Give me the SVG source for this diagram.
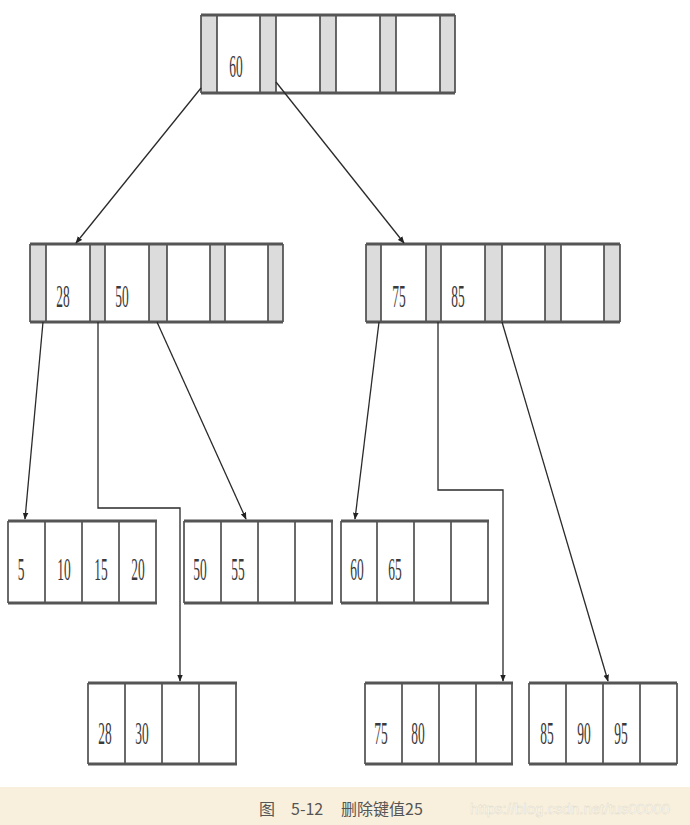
<svg xmlns="http://www.w3.org/2000/svg" width="690" height="825" viewBox="0 0 690 825">
<defs>
<marker id="ah" viewBox="0 0 10 10" refX="9" refY="5" markerWidth="7" markerHeight="7" orient="auto-start-reverse" markerUnits="userSpaceOnUse">
<path d="M0,1 L10,5 L0,9 z" fill="#222"/>
</marker>
</defs>
<style>
.g{fill:#dcdcdc;stroke:none}
.box{fill:#fff;stroke:none}
.v{stroke:#3a3a3a;stroke-width:1.5;fill:none}
.hb{stroke:#555;stroke-width:3;fill:none}
.n{font-family:"Liberation Serif","Times New Roman",serif;font-size:32px;fill:#3a3a3a;text-anchor:middle}
.c{stroke:#2a2a2a;stroke-width:1.3;fill:none}
.cap{font-family:"Noto Sans CJK SC","Noto Sans",sans-serif;font-size:16px;fill:#555}
.wm{font-family:"Liberation Sans","Noto Sans",sans-serif;font-size:15px;fill:#ffffff;stroke:#e2d9c6;stroke-width:0.5}
</style>
<rect width="690" height="825" fill="#fff"/>
<rect x="0" y="787" width="690" height="38" fill="#f8f0dc"/>

<g id="root">
<rect class="box" x="201" y="15" width="254" height="78"/>
<rect class="g" x="201" y="15" width="16" height="78"/>
<rect class="g" x="260" y="15" width="16" height="78"/>
<rect class="g" x="320" y="15" width="16" height="78"/>
<rect class="g" x="380" y="15" width="16" height="78"/>
<rect class="g" x="440" y="15" width="15" height="78"/>
<path class="v" d="M201,15V93M217,15V93M260,15V93M276,15V93M320,15V93M336,15V93M380,15V93M396,15V93M440,15V93M455,15V93"/>
<path class="hb" d="M201,15H455M201,93H455"/>
<text class="n" transform="translate(236,77) scale(0.42,1)">60</text>
</g>

<g id="mid-left">
<rect class="box" x="30" y="244" width="253" height="78"/>
<rect class="g" x="30" y="244" width="16" height="78"/>
<rect class="g" x="90" y="244" width="15" height="78"/>
<rect class="g" x="149" y="244" width="18" height="78"/>
<rect class="g" x="210" y="244" width="15" height="78"/>
<rect class="g" x="268" y="244" width="15" height="78"/>
<path class="v" d="M30,244V322M46,244V322M90,244V322M105,244V322M149,244V322M167,244V322M210,244V322M225,244V322M268,244V322M283,244V322"/>
<path class="hb" d="M30,244H283M30,322H283"/>
<text class="n" transform="translate(63,307) scale(0.42,1)">28</text>
<text class="n" transform="translate(122,307) scale(0.42,1)">50</text>
</g>

<g id="mid-right">
<rect class="box" x="366" y="244" width="254" height="78"/>
<rect class="g" x="366" y="244" width="15" height="78"/>
<rect class="g" x="426" y="244" width="15" height="78"/>
<rect class="g" x="485" y="244" width="17" height="78"/>
<rect class="g" x="545" y="244" width="16" height="78"/>
<rect class="g" x="604" y="244" width="16" height="78"/>
<path class="v" d="M366,244V322M381,244V322M426,244V322M441,244V322M485,244V322M502,244V322M545,244V322M561,244V322M604,244V322M620,244V322"/>
<path class="hb" d="M366,244H620M366,322H620"/>
<text class="n" transform="translate(399,307) scale(0.42,1)">75</text>
<text class="n" transform="translate(458,307) scale(0.42,1)">85</text>
</g>

<g id="leaf-5-20">
<path class="v" d="M8,521V603M45,521V603M82,521V603M119,521V603M156,521V603"/>
<path class="hb" d="M8,521H157M8,603H157"/>
<text class="n" transform="translate(21,580) scale(0.42,1)">5</text>
<text class="n" transform="translate(64,580) scale(0.42,1)">10</text>
<text class="n" transform="translate(101,580) scale(0.42,1)">15</text>
<text class="n" transform="translate(138,580) scale(0.42,1)">20</text>
</g>

<g id="leaf-50-55">
<path class="v" d="M184,521V603M221,521V603M258,521V603M295,521V603M332,521V603"/>
<path class="hb" d="M184,521H333M184,603H333"/>
<text class="n" transform="translate(200,580) scale(0.42,1)">50</text>
<text class="n" transform="translate(238,580) scale(0.42,1)">55</text>
</g>

<g id="leaf-60-65">
<path class="v" d="M341,521V603M377,521V603M414,521V603M451,521V603M488,521V603"/>
<path class="hb" d="M341,521H489M341,603H489"/>
<text class="n" transform="translate(357,580) scale(0.42,1)">60</text>
<text class="n" transform="translate(395,580) scale(0.42,1)">65</text>
</g>

<g id="leaf-28-30">
<path class="v" d="M88,683V764M125,683V764M162,683V764M199,683V764M236,683V764"/>
<path class="hb" d="M88,683H237M88,764H237"/>
<text class="n" transform="translate(105,744) scale(0.42,1)">28</text>
<text class="n" transform="translate(142,744) scale(0.42,1)">30</text>
</g>

<g id="leaf-75-80">
<path class="v" d="M365,683V764M402,683V764M439,683V764M476,683V764M512,683V764"/>
<path class="hb" d="M365,683H513M365,764H513"/>
<text class="n" transform="translate(381,744) scale(0.42,1)">75</text>
<text class="n" transform="translate(418,744) scale(0.42,1)">80</text>
</g>

<g id="leaf-85-95">
<path class="v" d="M529,683V764M566,683V764M603,683V764M640,683V764M677,683V764"/>
<path class="hb" d="M529,683H677M529,764H677"/>
<text class="n" transform="translate(547,744) scale(0.42,1)">85</text>
<text class="n" transform="translate(584,744) scale(0.42,1)">90</text>
<text class="n" transform="translate(621,744) scale(0.42,1)">95</text>
</g>

<g id="connectors">
<path class="c" marker-end="url(#ah)" d="M201,88L76,243"/>
<path class="c" marker-end="url(#ah)" d="M276,82L404,243"/>
<path class="c" marker-end="url(#ah)" d="M43,322L25,519"/>
<path class="c" marker-end="url(#ah)" d="M98,322V508H180V681"/>
<path class="c" marker-end="url(#ah)" d="M157,322L246,519"/>
<path class="c" marker-end="url(#ah)" d="M379,322L355,519"/>
<path class="c" marker-end="url(#ah)" d="M438,322V490H503V681"/>
<path class="c" marker-end="url(#ah)" d="M502,322L608,681"/>
</g>

<g id="caption">
<text class="cap" x="259" y="815">图</text>
<text class="cap" x="291" y="815">5-12</text>
<text class="cap" x="341" y="815">删除键值25</text>
<text class="wm" x="470" y="814">https://blog.csdn.net/tus00000</text>
</g>
</svg>
